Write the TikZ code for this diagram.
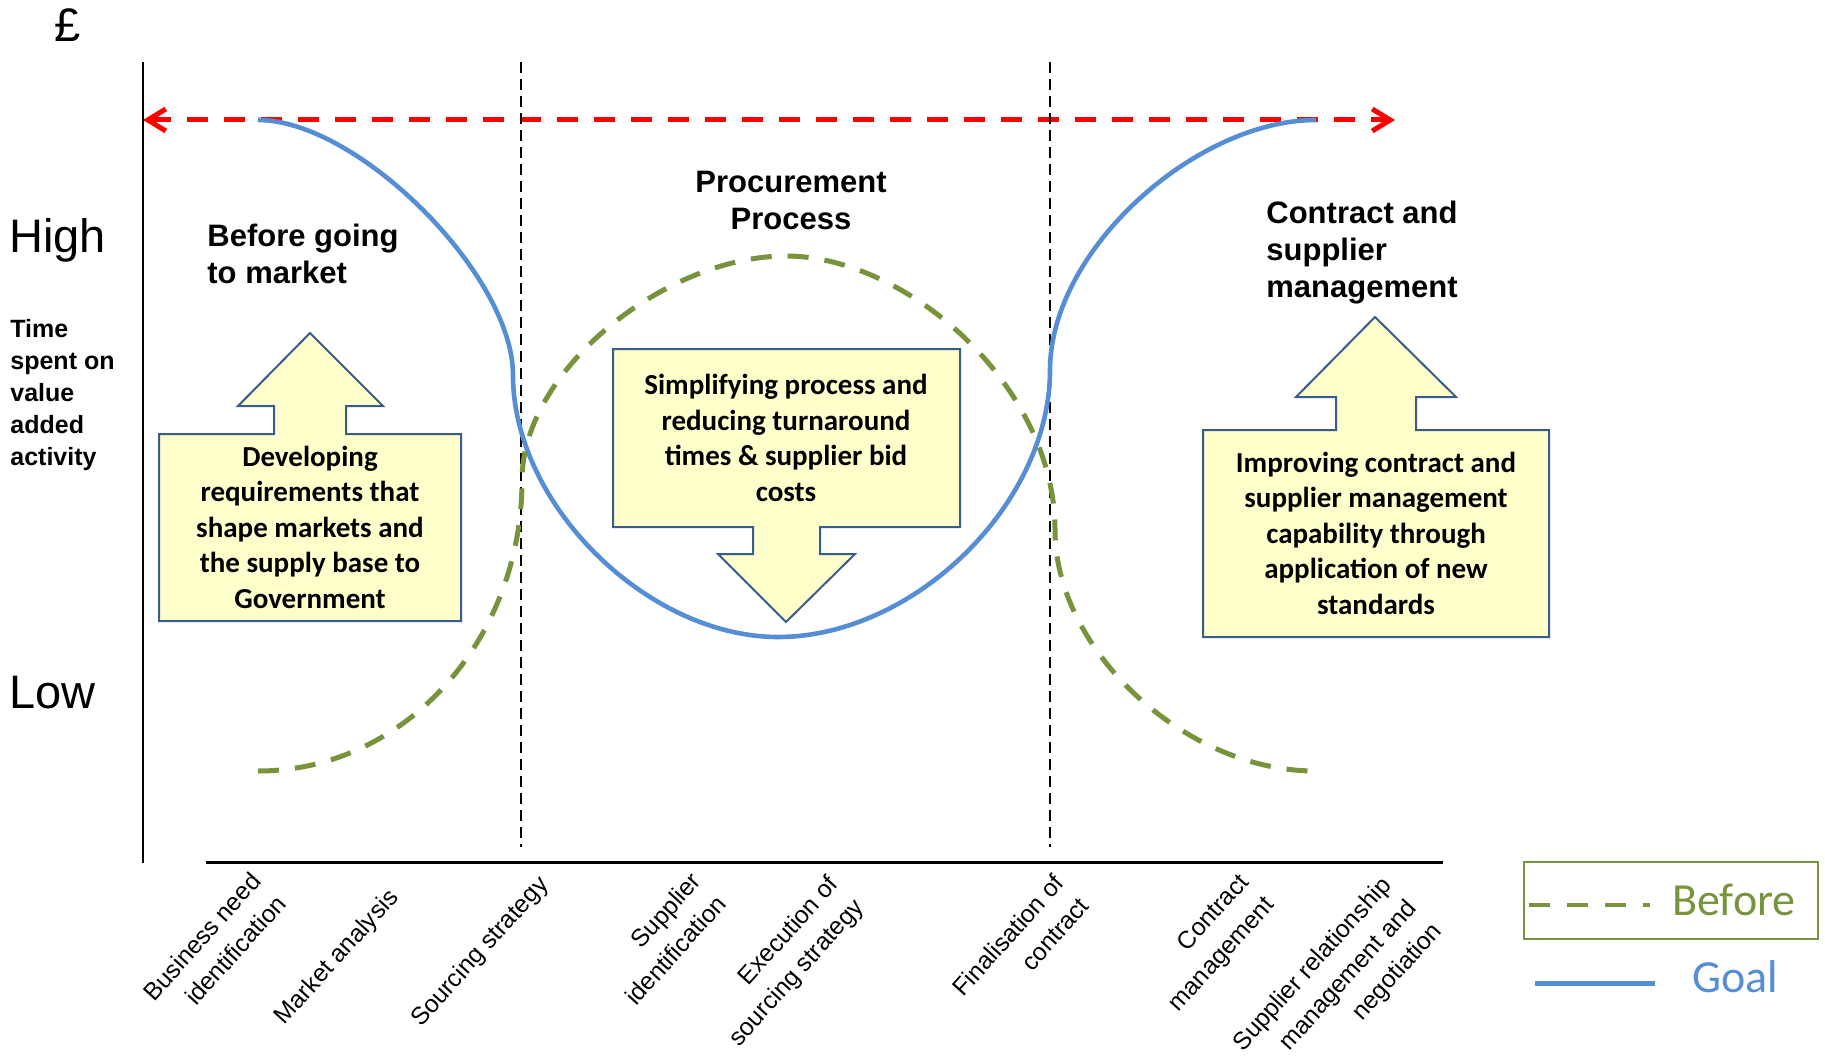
\documentclass[tikz,border=0pt]{standalone}
\usepackage{fontspec}
\setmainfont{Liberation Sans}
\newfontfamily\calfont{Carlito}
\usetikzlibrary{arrows.meta}
\definecolor{goalblue}{HTML}{558ED5}
\definecolor{beforegreen}{HTML}{77933C}
\definecolor{boxfill}{HTML}{FFFFCC}
\definecolor{boxline}{HTML}{385D8A}
\begin{document}
\begin{tikzpicture}[x=0.5pt,y=-0.5pt,
  axis/.style={line width=1.2pt,black},
  divider/.style={line width=1pt,black,dash pattern=on 5.5pt off 3pt},
  goal/.style={goalblue,line width=2.3pt},
  before/.style={beforegreen,line width=2.5pt,dash pattern=on 10.5pt off 8pt},
  span/.style={red,line width=2.5pt,dash pattern=on 10.5pt off 8pt,
    {Straight Barb[length=9pt,width=11pt]}-{Straight Barb[length=9pt,width=11pt]}},
  callout/.style={draw=boxline,fill=boxfill,line width=1pt,line join=miter},
  calltext/.style={font=\calfont\bfseries\fontsize{14.5}{17.75}\selectfont,align=center,inner sep=0},
  heading/.style={font=\bfseries\fontsize{15.5}{18.5}\selectfont,inner sep=0},
  level/.style={font=\fontsize{23.5}{28}\selectfont,inner sep=0,anchor=base west},
  stage/.style={font=\fontsize{12.3}{17}\selectfont,rotate=48,anchor=north east,align=right,inner sep=0},
  legtext/.style={font=\calfont\fontsize{23}{28}\selectfont,inner sep=0,anchor=base west},
]
\useasboundingbox (0,0) rectangle (1825,1064);

% dashed span across the whole life cycle
\coordinate (spanL) at (143,120);
\coordinate (spanR) at (1395,120);
\draw[span] (spanL) -- (spanR);

% phase dividers
\coordinate (d1t) at (521,62);  \coordinate (d1b) at (521,847);
\coordinate (d2t) at (1050,62); \coordinate (d2b) at (1050,847);
\draw[divider] (d1t) -- (d1b);
\draw[divider] (d2t) -- (d2b);

% axes
\coordinate (yTop) at (143,62);  \coordinate (yBot) at (143,863);
\coordinate (xL) at (206,862);   \coordinate (xR) at (1443,862);
\draw[axis] (yTop) -- (yBot);
\draw[axis,line width=1.5pt] (xL) -- (xR);

% goal curve
\draw[goal] (258,120) .. controls (358,120) and (513,275) .. (513,375)
  .. controls (513,505) and (648,637) .. (778,637)
  .. controls (913,637) and (1050,505) .. (1050,370)
  .. controls (1050,250) and (1196,120) .. (1316,120);

% before curve
\draw[before] (258,771) .. controls (404,771) and (522,641) .. (522,480)
  .. controls (522,370) and (666,256) .. (786,256)
  .. controls (906,256) and (1055,385) .. (1055,530)
  .. controls (1055,650) and (1185,771) .. (1315,771);

% callouts
\draw[callout] (159,434) -- (274,434) -- (274,406) -- (238,406) -- (310,333)
  -- (383,406) -- (346,406) -- (346,434) -- (461,434) -- (461,621) -- (159,621) -- cycle;
\node[calltext] (marketText) at (310,527)
  {Developing\\requirements that\\shape markets and\\the supply base to\\Government};

\draw[callout] (613,349) -- (960,349) -- (960,527) -- (820,527) -- (820,554)
  -- (855,554) -- (786,622) -- (718,554) -- (753,554) -- (753,527) -- (613,527) -- cycle;
\node[calltext] (processText) at (786,438)
  {Simplifying process and\\reducing turnaround\\times \& supplier bid\\costs};

\draw[callout] (1203,430) -- (1336,430) -- (1336,397) -- (1296,397) -- (1375,317)
  -- (1456,397) -- (1416,397) -- (1416,430) -- (1549,430) -- (1549,637) -- (1203,637) -- cycle;
\node[calltext] (contractText) at (1376,533)
  {Improving contract and\\supplier management\\capability through\\application of new\\standards};

% phase headings (anchored on the baseline of their last line)
\node[heading,anchor=base west,align=left] (headMarket) at (207,284) {Before going\\to market};
\node[heading,anchor=base,align=center] (headProcess) at (791,230) {Procurement\\Process};
\node[heading,anchor=base west,align=left] (headContract) at (1266,298) {Contract and\\supplier\\management};

% vertical axis labels
\node[level] (pound) at (54,42) {£};
\node[level] (high) at (9,253) {High};
\node[level] (low) at (9,708) {Low};
\node[font=\bfseries\fontsize{12.5}{16}\selectfont,anchor=base west,align=left,inner sep=0]
  (yLabel) at (10,465) {Time\\spent on\\value\\added\\activity};

% stages along the horizontal axis
\node[stage] (s1) at (249,870) {Business need\\identification};
\node[stage] (s2) at (386,886) {Market analysis};
\node[stage] (s3) at (536,873) {Sourcing strategy};
\node[stage] (s4) at (689,870) {Supplier\\identification};
\node[stage] (s5) at (826,873) {Execution of\\sourcing strategy};
\node[stage] (s6) at (1052,872) {Finalisation of\\contract};
\node[stage] (s7) at (1237,871) {Contract\\management};
\node[stage] (s8) at (1379,874) {Supplier relationship\\management and\\negotiation};

% legend
\coordinate (legNW) at (1524,862); \coordinate (legSE) at (1818,939);
\draw[beforegreen,line width=1pt] (legNW) rectangle (legSE);
\coordinate (lbA) at (1529,905); \coordinate (lbB) at (1650,905);
\draw[before,line width=2pt,dash pattern=on 10.5pt off 8.5pt] (lbA) -- (lbB);
\node[legtext,text=beforegreen] (legBefore) at (1672,915) {Before};
\coordinate (lgA) at (1535,983); \coordinate (lgB) at (1655,983);
\draw[goal,line width=2.5pt] (lgA) -- (lgB);
\node[legtext,text=goalblue] (legGoal) at (1692,992) {Goal};
\end{tikzpicture}
\end{document}
